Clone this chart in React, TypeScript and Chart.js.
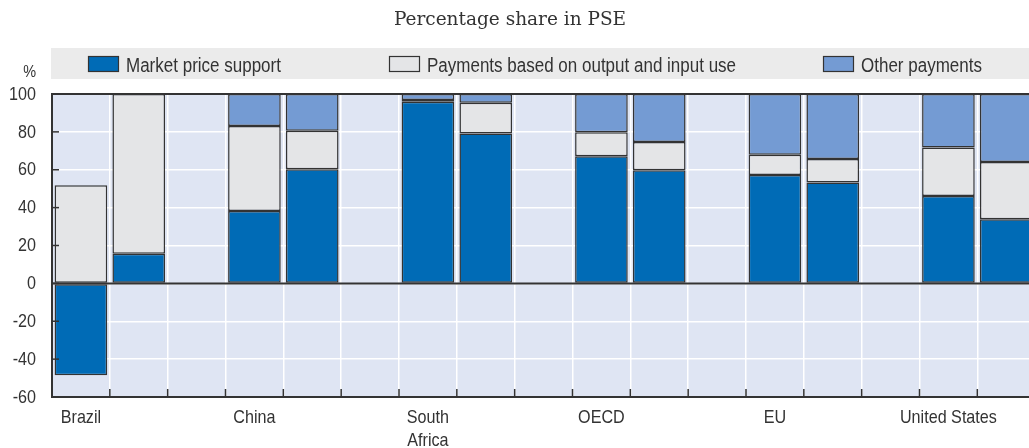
import React, { useEffect, useRef } from "react";
import { Chart, registerables } from "chart.js";

Chart.register(...registerables);

// ---- Data ----
const countries: string[][] = [["Brazil"], ["China"], ["South", "Africa"], ["OECD"], ["EU"], ["United States"]];
// two periods per country, in order
const marketPriceSupport = [-48.5, 15.6, 38.2, 60.2, 95.9, 79.2, 67.1, 59.7, 57.2, 53.3, 46.1, 33.8];
const outputInputPayments = [51.8, 84.4, 44.9, 20.4, 0.9, 16.2, 12.7, 14.9, 10.7, 12.4, 25.7, 30.3];
const otherPayments = [0, 0, 16.9, 19.4, 3.2, 4.6, 20.2, 25.4, 32.1, 34.3, 28.2, 35.9];
const seriesNames = ["Market price support", "Payments based on output and input use", "Other payments"];
const seriesColors = ["#006bb6", "#e4e5e7", "#749bd3"];
const yTicks = [-60, -40, -20, 0, 20, 40, 60, 80, 100];
const titleText = "Percentage share in PSE";
const unitText = "%";

const SANS = "'Liberation Sans', Arial, sans-serif";
const SERIF = "'DejaVu Serif', 'Liberation Serif', serif";
const TEXT = "#333333";
const NARROW = 0.85;

// build slots: bar, bar, gap per country
const labels: (string | string[])[] = [];
countries.forEach((c) => {
  labels.push(c.length > 1 ? c : c[0]);
  labels.push("");
  labels.push("");
});
const toSlots = (vals: number[]) => {
  const out: (number | null)[] = [];
  for (let g = 0; g < countries.length; g++) {
    out.push(vals[g * 2], vals[g * 2 + 1], null);
  }
  return out;
};
const seriesValues = [marketPriceSupport, outputInputPayments, otherPayments];

function narrowText(ctx: CanvasRenderingContext2D, text: string, x: number, y: number, size: number, align: CanvasTextAlign, baseline: CanvasTextBaseline = "alphabetic") {
  ctx.save();
  ctx.font = `${size}px ${SANS}`;
  ctx.fillStyle = TEXT;
  ctx.textAlign = align;
  ctx.textBaseline = baseline;
  ctx.translate(x, y);
  ctx.scale(NARROW, 1);
  ctx.fillText(text, 0, 0);
  ctx.restore();
}

const decorPlugin = {
  id: "decor",
  beforeDraw(chart: any) {
    const ctx = chart.ctx;
    const area = chart.chartArea;
    ctx.save();
    // title
    ctx.fillStyle = TEXT;
    ctx.font = `18.5px ${SERIF}`;
    ctx.textAlign = "center";
    ctx.textBaseline = "alphabetic";
    ctx.fillText(titleText, 510, 25);
    // legend band
    ctx.fillStyle = "#ebebeb";
    ctx.fillRect(area.left - 1, 48, chart.width - area.left + 1, 31);
    const boxX = [88, 389, 823];
    chart.data.datasets.forEach((ds: any, i: number) => {
      ctx.fillStyle = ds.backgroundColor;
      ctx.fillRect(boxX[i], 56, 31, 16);
      ctx.strokeStyle = "#333";
      ctx.lineWidth = 1.2;
      ctx.strokeRect(boxX[i] + 0.5, 56.5, 30, 15);
      narrowText(ctx, ds.label, boxX[i] + 38, 71.5, 20, "left");
    });
    // unit
    narrowText(ctx, unitText, 36, 77, 17, "right");
    // plot background
    ctx.fillStyle = "#dfe5f3";
    ctx.fillRect(area.left, area.top, area.right - area.left, area.bottom - area.top);
    ctx.restore();
  },
  beforeDatasetsDraw(chart: any) {
    const ctx = chart.ctx;
    const area = chart.chartArea;
    const y = chart.scales.y;
    ctx.save();
    ctx.strokeStyle = "#333";
    ctx.lineWidth = 2;
    [0, 100].forEach((v) => {
      const py = y.getPixelForValue(v);
      ctx.beginPath();
      ctx.moveTo(area.left, py);
      ctx.lineTo(area.right, py);
      ctx.stroke();
    });
    ctx.restore();
  },
  afterDatasetsDraw(chart: any) {
    const ctx = chart.ctx;
    const area = chart.chartArea;
    const y = chart.scales.y;
    const x = chart.scales.x;
    const n = chart.data.labels.length;
    const slot = (area.right - area.left) / n;
    ctx.save();
    ctx.strokeStyle = "#333";
    ctx.lineWidth = 1.5;
    yTicks.forEach((v) => {
      const py = y.getPixelForValue(v);
      ctx.beginPath();
      ctx.moveTo(area.left, py);
      ctx.lineTo(area.left + 7, py);
      ctx.stroke();
    });
    for (let i = 1; i < n; i++) {
      const px = area.left + i * slot;
      ctx.beginPath();
      ctx.moveTo(px, area.bottom);
      ctx.lineTo(px, area.bottom - 8);
      ctx.stroke();
    }
    ctx.restore();
    // tick labels
    yTicks.forEach((v) => {
      narrowText(ctx, String(v), 36, y.getPixelForValue(v) + 0.5, 19, "right", "middle");
    });
    chart.data.labels.forEach((lab: any, i: number) => {
      const lines = Array.isArray(lab) ? lab : [lab];
      const px = x.getPixelForValue(i);
      lines.forEach((line: string, j: number) => {
        if (line) narrowText(ctx, line, px, area.bottom + 26 + j * 23, 19, "center");
      });
    });
  },
};

export default function App() {
  const ref = useRef<HTMLCanvasElement | null>(null);
  useEffect(() => {
    if (!ref.current) return;
    const chart = new Chart(ref.current, {
      type: "bar",
      data: {
        labels,
        datasets: seriesNames.map((name, i) => ({
          label: name,
          data: toSlots(seriesValues[i]),
          backgroundColor: seriesColors[i],
          borderColor: "#333333",
          borderWidth: 1.5,
          borderSkipped: false,
          barPercentage: 0.91,
          categoryPercentage: 1,
        })),
      },
      options: {
        animation: false,
        responsive: true,
        maintainAspectRatio: false,
        layout: { padding: { top: 94, left: 0, right: 0, bottom: 0 } },
        plugins: {
          legend: { display: false },
          title: { display: false },
          tooltip: { enabled: false },
        },
        scales: {
          x: {
            stacked: true,
            grid: { color: "#ffffff", lineWidth: 1.5, offset: true, drawTicks: false },
            border: { display: true, color: "#333333", width: 2 },
            ticks: { display: false, autoSkip: false },
            afterFit: (s: any) => {
              s.height = 51;
            },
          },
          y: {
            stacked: true,
            min: -60,
            max: 100,
            grid: { color: "#ffffff", lineWidth: 1.5, drawTicks: false },
            border: { display: true, color: "#333333", width: 2 },
            afterBuildTicks: (s: any) => {
              s.ticks = yTicks.map((v) => ({ value: v }));
            },
            ticks: { display: false },
            afterFit: (s: any) => {
              s.width = 52;
            },
          },
        },
      },
      plugins: [decorPlugin],
    });
    return () => chart.destroy();
  }, []);
  return (
    <div style={{ position: "fixed", left: 0, top: 0, width: 1029, height: 448, overflow: "hidden", background: "#fff" }}>
      <div style={{ position: "relative", width: 1093, height: 448 }}>
        <canvas ref={ref} />
      </div>
    </div>
  );
}
